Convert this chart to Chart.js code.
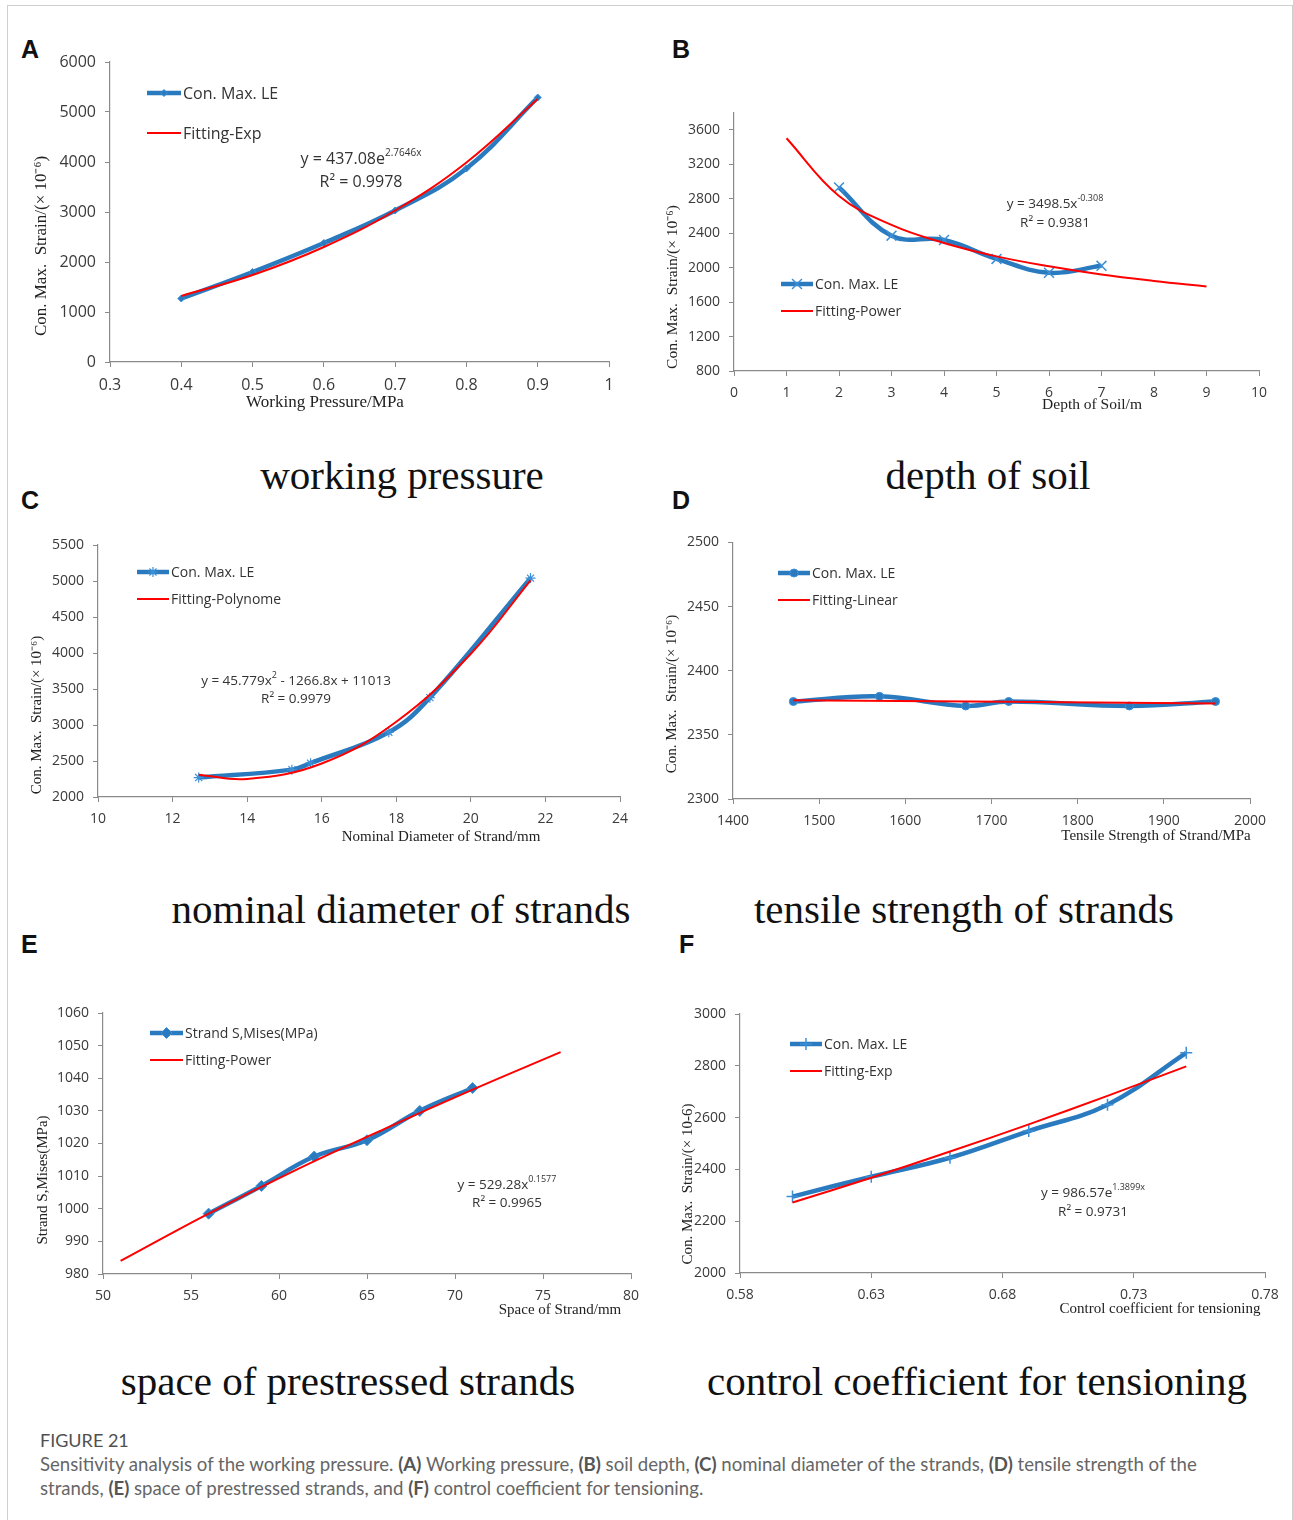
<!DOCTYPE html>
<html>
<head>
<meta charset="utf-8">
<script src="https://cdn.jsdelivr.net/npm/chart.js@4.4.1/dist/chart.umd.min.js"></script>
<style>
  body { margin: 0; background: #fff; }
  #fig { position: relative; width: 1293px; height: 1520px; overflow: hidden; }
  .frame { position: absolute; left: 7px; top: 5px; width: 1284px; height: 1530px; border: 1px solid #cfcfcf; }
  .panel { position: absolute; }
  .letter { position: absolute; font: bold 25px "Liberation Sans", Arial, sans-serif; color: #111; line-height: 1; }
  .cap { position: absolute; width: 700px; text-align: center; font-family: "Liberation Serif", serif; font-size: 41px; color: #111; line-height: 1; }
  .figcap { position: absolute; left: 40px; top: 1428px; width: 1195px; font-family: Lato, "Open Sans", sans-serif; color: #666; font-size: 18.6px; line-height: 24px; }
  .figcap b { color: #555; }
  .figcap .head { color: #505050; font-size: 18px; }
</style>
</head>
<body>
<div id="fig">
  <div class="frame"></div>
</div>
<script>
// A - working pressure
const pressureX = [0.4, 0.5, 0.6, 0.7, 0.8, 0.9];
const pressureStrain = [1270, 1800, 2380, 3030, 3870, 5290];
const pressureFitX = [0.4, 0.5, 0.6, 0.7, 0.8, 0.9];
const pressureFit = [1320, 1740, 2300, 3030, 3990, 5260];
const pressureXTicks = [0.3, 0.4, 0.5, 0.6, 0.7, 0.8, 0.9, 1];
const pressureYTicks = [0, 1000, 2000, 3000, 4000, 5000, 6000];

// B - depth of soil
const soilX = [2, 3, 4, 5, 6, 7];
const soilStrain = [2930, 2370, 2320, 2100, 1940, 2020];
const soilFitX = [1, 2, 3, 4, 5, 6, 7, 8, 9];
const soilFit = [3500, 2830, 2495, 2285, 2130, 2015, 1920, 1845, 1780];
const soilXTicks = [0, 1, 2, 3, 4, 5, 6, 7, 8, 9, 10];
const soilYTicks = [800, 1200, 1600, 2000, 2400, 2800, 3200, 3600];

// C - nominal diameter of strands
const diamX = [12.7, 15.2, 15.7, 17.8, 18.9, 21.6];
const diamStrain = [2270, 2380, 2470, 2900, 3380, 5040];
const diamFitX = [12.7, 14, 16, 18, 20, 21.6];
const diamFit = [2310, 2250, 2465, 3045, 3990, 5010];
const diamXTicks = [10, 12, 14, 16, 18, 20, 22, 24];
const diamYTicks = [2000, 2500, 3000, 3500, 4000, 4500, 5000, 5500];

// D - tensile strength of strands
const tensileX = [1470, 1570, 1670, 1720, 1860, 1960];
const tensileStrain = [2376, 2380, 2372.5, 2376, 2372.5, 2376];
const tensileFitX = [1470, 1960];
const tensileFit = [2377, 2374.5];
const tensileXTicks = [1400, 1500, 1600, 1700, 1800, 1900, 2000];
const tensileYTicks = [2300, 2350, 2400, 2450, 2500];

// E - space of prestressed strands
const spaceX = [56, 59, 62, 65, 68, 71];
const spaceStress = [998.5, 1007, 1016, 1021, 1030, 1037];
const spaceFitX = [51, 56, 61, 66, 71, 76];
const spaceFit = [984, 998.5, 1012, 1024.5, 1036.5, 1048];
const spaceXTicks = [50, 55, 60, 65, 70, 75, 80];
const spaceYTicks = [980, 990, 1000, 1010, 1020, 1030, 1040, 1050, 1060];

// F - control coefficient for tensioning
const coefX = [0.60, 0.63, 0.66, 0.69, 0.72, 0.75];
const coefStrain = [2295, 2372, 2445, 2548, 2650, 2850];
const coefFitX = [0.60, 0.63, 0.66, 0.69, 0.72, 0.75];
const coefFit = [2272, 2368, 2469, 2574, 2684, 2798];
const coefXTicks = [0.58, 0.63, 0.68, 0.73, 0.78];
const coefYTicks = [2000, 2200, 2400, 2600, 2800, 3000];

const BLUE = '#2a7abf';
const RED = '#ff0000';
const AXIS = '#8a8a8a';
const TICK_TXT = '#3a3a3a';
const SANS = '"Open Sans", "Liberation Sans", sans-serif';
const SERIF = '"Liberation Serif", "Times New Roman", serif';

const fig = document.getElementById('fig');

function toXY(xs, ys) {
  return xs.map((x, i) => ({ x: x, y: ys[i] }));
}

// texte avec exposants : parts = [[texte, estExposant], ...]
function drawParts(ctx, parts, cx, cy, size) {
  const supSize = Math.round(size * 0.65);
  let total = 0;
  parts.forEach(p => {
    ctx.font = (p[1] ? supSize : size) + 'px ' + SANS;
    total += ctx.measureText(p[0]).width;
  });
  let x = cx - total / 2;
  ctx.textAlign = 'left';
  ctx.textBaseline = 'middle';
  parts.forEach(p => {
    ctx.font = (p[1] ? supSize : size) + 'px ' + SANS;
    ctx.fillText(p[0], x, p[1] ? cy - size * 0.38 : cy);
    x += ctx.measureText(p[0]).width;
  });
}

function makePanel(p) {
  const r = p.rect, a = p.area;
  const ox = r[0], oy = r[1];
  const div = document.createElement('div');
  div.className = 'panel';
  div.style.left = ox + 'px';
  div.style.top = oy + 'px';
  const canvas = document.createElement('canvas');
  canvas.width = r[2];
  canvas.height = r[3];
  div.appendChild(canvas);
  fig.appendChild(div);

  const deco = {
    id: 'deco',
    afterDraw(chart) {
      const ctx = chart.ctx;
      ctx.save();
      ctx.fillStyle = '#222';
      // titres des axes
      ctx.font = p.titleSize + 'px ' + SERIF;
      ctx.textAlign = 'center';
      ctx.textBaseline = 'middle';
      ctx.fillText(p.xTitle, p.xTitleAt[0] - ox, p.xTitleAt[1] - oy);
      ctx.save();
      ctx.translate(p.yTitleAt[0] - ox, p.yTitleAt[1] - oy);
      ctx.rotate(-Math.PI / 2);
      ctx.fillText(p.yTitle, 0, 0);
      ctx.restore();

      // légende
      const ds = chart.data.datasets;
      const rows = [ds[1], ds[0]];
      rows.forEach((d, i) => {
        const lx = p.legendAt[0] - ox, ly = p.legendAt[1] - oy + i * p.legendGap;
        ctx.strokeStyle = d.borderColor;
        ctx.lineWidth = d.borderWidth;
        ctx.beginPath();
        ctx.moveTo(lx, ly);
        ctx.lineTo(lx + p.legendLen, ly);
        ctx.stroke();
        if (d.pointRadius > 0) {
          ctx.fillStyle = d.pointBackgroundColor;
          ctx.strokeStyle = d.pointBorderColor;
          ctx.lineWidth = d.pointBorderWidth;
          Chart.helpers.drawPoint(ctx, { pointStyle: d.pointStyle, radius: d.pointRadius, rotation: 0, borderWidth: d.pointBorderWidth }, lx + p.legendLen / 2, ly);
        }
        ctx.fillStyle = '#333';
        ctx.font = p.legendSize + 'px ' + SANS;
        ctx.textAlign = 'left';
        ctx.textBaseline = 'middle';
        ctx.fillText(d.label, lx + p.legendLen + 2, ly + 1);
      });

      // équation de la courbe
      if (p.eq) {
        ctx.fillStyle = '#333';
        drawParts(ctx, p.eq, p.eqAt[0] - ox, p.eqAt[1] - oy, p.eqSize);
        drawParts(ctx, [['R\u00b2 = ' + p.r2, false]], p.eqAt[0] - ox, p.eqAt[1] - oy + p.eqGap, p.eqSize);
      }
      ctx.restore();
    }
  };

  const axisCommon = {
    type: 'linear',
    grid: { drawOnChartArea: false, drawTicks: true, tickLength: 5, color: AXIS, lineWidth: 1 },
    border: { color: AXIS, width: 1.2 },
  };

  new Chart(canvas, {
    type: 'line',
    data: {
      datasets: [
        {
          label: p.fitLabel,
          data: toXY(p.fitX, p.fitY),
          borderColor: RED,
          borderWidth: 2,
          pointRadius: 0,
          tension: 0.4,
          order: 1
        },
        {
          label: p.dataLabel,
          data: toXY(p.x, p.y),
          borderColor: BLUE,
          backgroundColor: BLUE,
          borderWidth: 4.5,
          pointStyle: p.marker,
          pointRadius: p.markerSize,
          pointBackgroundColor: BLUE,
          pointBorderColor: '#3d8fd6',
          pointBorderWidth: p.markerBorder,
          tension: 0.4,
          order: 2
        }
      ]
    },
    options: {
      responsive: false,
      animation: false,
      layout: { padding: { left: 0, top: a[1] - oy, right: ox + r[2] - a[2], bottom: 0 } },
      plugins: { legend: { display: false }, tooltip: { enabled: false } },
      scales: {
        x: Object.assign({}, axisCommon, {
          min: p.xTicks[0],
          max: p.xTicks[p.xTicks.length - 1],
          afterBuildTicks: s => { s.ticks = p.xTicks.map(v => ({ value: v })); },
          afterFit: s => { s.height = oy + r[3] - a[3]; },
          ticks: { color: TICK_TXT, font: { family: SANS, size: p.tickSize }, padding: 9, maxRotation: 0, autoSkip: false, callback: v => String(v) }
        }),
        y: Object.assign({}, axisCommon, {
          min: p.yTicks[0],
          max: p.yMax !== undefined ? p.yMax : p.yTicks[p.yTicks.length - 1],
          afterBuildTicks: s => { s.ticks = p.yTicks.map(v => ({ value: v })); },
          afterFit: s => { s.width = a[0] - ox; },
          ticks: { color: TICK_TXT, font: { family: SANS, size: p.tickSize }, padding: 9, autoSkip: false, callback: v => String(v) }
        })
      }
    },
    plugins: [deco]
  });
}

function addText(cls, text, left, top) {
  const d = document.createElement('div');
  d.className = cls;
  d.textContent = text;
  d.style.left = left + 'px';
  d.style.top = top + 'px';
  fig.appendChild(d);
}

// Lettres des sous-figures
addText('letter', 'A', 21, 37);
addText('letter', 'B', 672, 37);
addText('letter', 'C', 21, 488);
addText('letter', 'D', 672, 488);
addText('letter', 'E', 21, 932);
addText('letter', 'F', 679, 932);

// Légendes sous chaque graphique
addText('cap', 'working pressure', 402 - 350, 455);
addText('cap', 'depth of soil', 988 - 350, 455);
addText('cap', 'nominal diameter of strands', 401 - 350, 889);
addText('cap', 'tensile strength of strands', 964 - 350, 889);
addText('cap', 'space of prestressed strands', 348 - 350, 1361);
addText('cap', 'control coefficient for tensioning', 977 - 350, 1361);

const strainTitle = 'Con. Max.  Strain/(\u00d7 10\u207b\u2076)';

makePanel({
  rect: [12, 30, 640, 400], area: [110, 62, 609, 362],
  x: pressureX, y: pressureStrain, fitX: pressureFitX, fitY: pressureFit,
  xTicks: pressureXTicks, yTicks: pressureYTicks,
  dataLabel: 'Con. Max. LE', fitLabel: 'Fitting-Exp',
  marker: 'rectRot', markerSize: 3.5, markerBorder: 1,
  tickSize: 16, titleSize: 17, legendSize: 16, eqSize: 16,
  xTitle: 'Working Pressure/MPa', xTitleAt: [325, 403],
  yTitle: strainTitle, yTitleAt: [42, 246],
  legendAt: [147, 93], legendGap: 40, legendLen: 34,
  eq: [['y = 437.08e', false], ['2.7646x', true]], r2: '0.9978', eqAt: [361, 159], eqGap: 23
});

makePanel({
  rect: [650, 95, 643, 330], area: [734, 112, 1259, 371],
  x: soilX, y: soilStrain, fitX: soilFitX, fitY: soilFit,
  xTicks: soilXTicks, yTicks: soilYTicks, yMax: 3800,
  dataLabel: 'Con. Max. LE', fitLabel: 'Fitting-Power',
  marker: 'crossRot', markerSize: 7, markerBorder: 1.5,
  tickSize: 14, titleSize: 15.5, legendSize: 14, eqSize: 13.5,
  xTitle: 'Depth of Soil/m', xTitleAt: [1092, 405],
  yTitle: strainTitle, yTitleAt: [673, 287],
  legendAt: [781, 284], legendGap: 27, legendLen: 32,
  eq: [['y = 3498.5x', false], ['-0.308', true]], r2: '0.9381', eqAt: [1055, 204], eqGap: 19
});

makePanel({
  rect: [12, 525, 640, 330], area: [98, 545, 620, 797],
  x: diamX, y: diamStrain, fitX: diamFitX, fitY: diamFit,
  xTicks: diamXTicks, yTicks: diamYTicks,
  dataLabel: 'Con. Max. LE', fitLabel: 'Fitting-Polynome',
  marker: 'star', markerSize: 5, markerBorder: 1.2,
  tickSize: 14, titleSize: 15, legendSize: 14, eqSize: 13.5,
  xTitle: 'Nominal Diameter of Strand/mm', xTitleAt: [441, 837],
  yTitle: strainTitle, yTitleAt: [37, 715],
  legendAt: [137, 572], legendGap: 27, legendLen: 32,
  eq: [['y = 45.779x', false], ['2', true], [' - 1266.8x + 11013', false]], r2: '0.9979', eqAt: [296, 681], eqGap: 18
});

makePanel({
  rect: [650, 525, 643, 330], area: [733, 541, 1250, 799],
  x: tensileX, y: tensileStrain, fitX: tensileFitX, fitY: tensileFit,
  xTicks: tensileXTicks, yTicks: tensileYTicks,
  dataLabel: 'Con. Max. LE', fitLabel: 'Fitting-Linear',
  marker: 'circle', markerSize: 4, markerBorder: 1,
  tickSize: 14, titleSize: 15, legendSize: 14, eqSize: 13.5,
  xTitle: 'Tensile Strength of Strand/MPa', xTitleAt: [1156, 836],
  yTitle: strainTitle, yTitleAt: [672, 694],
  legendAt: [778, 573], legendGap: 27, legendLen: 32,
  eq: null
});

makePanel({
  rect: [12, 995, 660, 330], area: [103, 1013, 631, 1274],
  x: spaceX, y: spaceStress, fitX: spaceFitX, fitY: spaceFit,
  xTicks: spaceXTicks, yTicks: spaceYTicks,
  dataLabel: 'Strand S,Mises(MPa)', fitLabel: 'Fitting-Power',
  marker: 'rectRot', markerSize: 5.5, markerBorder: 1,
  tickSize: 14, titleSize: 15, legendSize: 14, eqSize: 13.5,
  xTitle: 'Space of Strand/mm', xTitleAt: [560, 1310],
  yTitle: 'Strand S,Mises(MPa)', yTitleAt: [43, 1180],
  legendAt: [150, 1033], legendGap: 27, legendLen: 33,
  eq: [['y = 529.28x', false], ['0.1577', true]], r2: '0.9965', eqAt: [507, 1185], eqGap: 18
});

makePanel({
  rect: [650, 995, 643, 330], area: [740, 1014, 1265, 1273],
  x: coefX, y: coefStrain, fitX: coefFitX, fitY: coefFit,
  xTicks: coefXTicks, yTicks: coefYTicks,
  dataLabel: 'Con. Max. LE', fitLabel: 'Fitting-Exp',
  marker: 'cross', markerSize: 6, markerBorder: 1.5,
  tickSize: 14, titleSize: 15, legendSize: 14, eqSize: 13.5,
  xTitle: 'Control coefficient for tensioning', xTitleAt: [1160, 1309],
  yTitle: 'Con. Max.  Strain/(\u00d7 10-6)', yTitleAt: [688, 1184],
  legendAt: [790, 1044], legendGap: 27, legendLen: 32,
  eq: [['y = 986.57e', false], ['1.3899x', true]], r2: '0.9731', eqAt: [1093, 1193], eqGap: 19
});

// Légende de la figure
const cap = document.createElement('div');
cap.className = 'figcap';
cap.innerHTML = '<div class="head">FIGURE 21</div>' +
  'Sensitivity analysis of the working pressure. <b>(A)</b> Working pressure, <b>(B)</b> soil depth, ' +
  '<b>(C)</b> nominal diameter of the strands, <b>(D)</b> tensile strength of the strands, ' +
  '<b>(E)</b> space of prestressed strands, and <b>(F)</b> control coefficient for tensioning.';
fig.appendChild(cap);
</script>
</body>
</html>
